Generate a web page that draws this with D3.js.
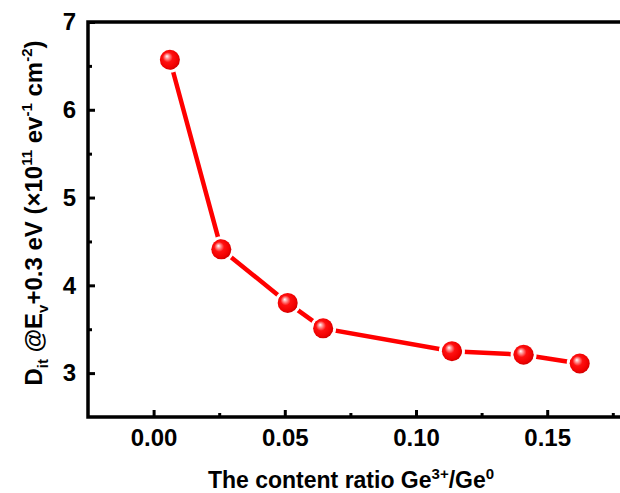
<!DOCTYPE html>
<html><head><meta charset="utf-8">
<script src="https://cdn.jsdelivr.net/npm/d3@7"></script>
<style>html,body{margin:0;padding:0;background:#fff;}svg{display:block;}</style>
</head><body>
<svg id="chart" width="620" height="493"></svg>
<script>
const ratio = [0.0062, 0.0258, 0.0511, 0.0646, 0.1137, 0.1410, 0.1624];
const dit   = [6.57, 4.41, 3.80, 3.51, 3.25, 3.21, 3.11];
const xMajorTicks = [0, 0.05, 0.10, 0.15];
const xMinorTicks = [0.025, 0.075, 0.125, 0.175];
const yMajorTicks = [3, 4, 5, 6, 7];
const yMinorTicks = [3.5, 4.5, 5.5, 6.5];

(function () {
const svg = d3.select("#chart");
const mLeft = 88, mTop = 22, mBottom = 417;
const x = d3.scaleLinear().domain([-0.025, 0.18]).range([mLeft, mLeft + 0.205 / 0.05 * 131.2]);
const y = d3.scaleLinear().domain([2.5, 7]).range([mBottom, mTop]);
const font = "'Liberation Sans', Arial, sans-serif";

const defs = svg.append("defs");
const g = defs.append("radialGradient").attr("id", "ball")
  .attr("cx", "0.45").attr("cy", "0.45").attr("r", "0.55")
  .attr("fx", "0.35").attr("fy", "0.32");
g.append("stop").attr("offset", "0%").attr("stop-color", "#ffffff");
g.append("stop").attr("offset", "18%").attr("stop-color", "#ff9a9a");
g.append("stop").attr("offset", "45%").attr("stop-color", "#ff1010");
g.append("stop").attr("offset", "85%").attr("stop-color", "#f00000");
g.append("stop").attr("offset", "100%").attr("stop-color", "#d00000");

const xAxis = d3.axisBottom(x).tickValues(xMajorTicks).tickSize(-7).tickPadding(12)
  .tickFormat(d3.format(".2f"));
const xMinor = d3.axisBottom(x).tickValues(xMinorTicks).tickSize(-4).tickFormat("");
const yAxis = d3.axisLeft(y).tickValues(yMajorTicks).tickSize(-7).tickPadding(12)
  .tickFormat(d3.format("d"));
const yMinor = d3.axisLeft(y).tickValues(yMinorTicks).tickSize(-4).tickFormat("");

function style(sel) {
  sel.select(".domain").remove();
  sel.selectAll(".tick line").attr("stroke", "#000").attr("stroke-width", 3);
  sel.selectAll(".tick text").attr("fill", "#000").style("font-family", font)
    .style("font-weight", "bold").style("font-size", "24px");
}
svg.append("g").attr("transform", `translate(0,${mBottom})`).call(xAxis).call(style);
svg.append("g").attr("transform", `translate(0,${mBottom})`).call(xMinor).call(style);
svg.append("g").attr("transform", `translate(${mLeft},0)`).call(yAxis).call(style);
svg.append("g").attr("transform", `translate(${mLeft},0)`).call(yMinor).call(style);

const xr = x.range()[1];
svg.append("path").attr("d", `M${xr},${mTop}H${mLeft}V${mBottom}H${xr}`)
  .attr("fill", "none").attr("stroke", "#000").attr("stroke-width", 3.5);

const pts = ratio.map((r, i) => [r, dit[i]]);
svg.append("path").datum(pts)
  .attr("d", d3.line().x(d => x(d[0])).y(d => y(d[1])))
  .attr("fill", "none").attr("stroke", "#ff0000").attr("stroke-width", 4.5);

svg.selectAll("circle.halo").data(pts).join("circle").attr("class", "halo")
  .attr("cx", d => x(d[0])).attr("cy", d => y(d[1])).attr("r", 11.5)
  .attr("fill", "none").attr("stroke", "#fff").attr("stroke-width", 3);
svg.selectAll("circle.ball").data(pts).join("circle").attr("class", "ball")
  .attr("cx", d => x(d[0])).attr("cy", d => y(d[1])).attr("r", 10)
  .attr("fill", "url(#ball)");

const xt = svg.append("text").attr("x", 351).attr("y", 488).attr("text-anchor", "middle")
  .style("font-family", font).style("font-weight", "bold").style("font-size", "23px").attr("fill", "#000");
xt.append("tspan").text("The content ratio Ge");
xt.append("tspan").attr("dy", -9).style("font-size", "15px").text("3+");
xt.append("tspan").attr("dy", 9).text("/Ge");
xt.append("tspan").attr("dy", -9).style("font-size", "15px").text("0");

const yt = svg.append("text").attr("transform", "translate(42,213) rotate(-90)")
  .attr("text-anchor", "middle")
  .style("font-family", font).style("font-weight", "bold").style("font-size", "24px").attr("fill", "#000");
yt.append("tspan").text("D");
yt.append("tspan").attr("dy", 6).style("font-size", "15px").text("it");
yt.append("tspan").attr("dy", -6).text(" @E");
yt.append("tspan").attr("dy", 6).style("font-size", "15px").text("v");
yt.append("tspan").attr("dy", -6).text("+0.3 eV (×10");
yt.append("tspan").attr("dy", -10).style("font-size", "15px").text("11");
yt.append("tspan").attr("dy", 10).text(" ev");
yt.append("tspan").attr("dy", -10).style("font-size", "15px").text("-1");
yt.append("tspan").attr("dy", 10).text(" cm");
yt.append("tspan").attr("dy", -10).style("font-size", "15px").text("-2");
yt.append("tspan").attr("dy", 10).text(")");
})();
</script>
</body></html>
